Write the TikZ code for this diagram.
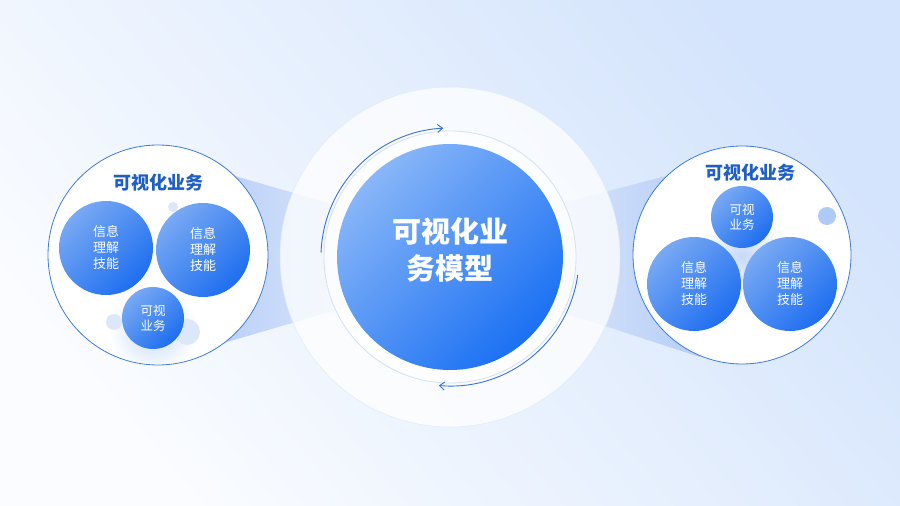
\documentclass[tikz,border=0pt]{standalone}
\usepackage{fontspec}
\newfontfamily\cjk{Noto Sans CJK SC}
\usetikzlibrary{arrows.meta}
\definecolor{bgblue}{HTML}{D4E4FC}
\definecolor{bgwhite}{HTML}{FAFCFF}
\definecolor{beamblue}{HTML}{B5CDF7}
\definecolor{beamlight}{HTML}{DCE8FB}
\definecolor{ringline}{HTML}{D3E1F6}
\definecolor{circline}{HTML}{3D7CDA}
\definecolor{mainlight}{HTML}{88B6F8}
\definecolor{maindark}{HTML}{1B70F3}
\definecolor{innerlight}{HTML}{78A9F3}
\definecolor{innerdark}{HTML}{1E6EF0}
\definecolor{titleblue}{HTML}{1F5FC5}
\definecolor{arrowblue}{HTML}{3674D6}
\definecolor{dotblue}{HTML}{DCE7F9}
\definecolor{glowblue}{HTML}{C6D9F8}

\begin{document}
\begin{tikzpicture}[x=1pt,y=1pt,
  bigcirc/.style={circle,draw=circline,line width=0.8pt,fill=white,minimum size=#1,inner sep=0pt},
  bluecirc/.style={circle,top color=innerlight,bottom color=innerdark,shading angle=45,
    minimum size=#1,inner sep=0pt,text=white,align=center,
    font=\cjk\fontsize{13}{16}\selectfont},
  smallcirc/.style={bluecirc=#1,font=\cjk\fontsize{12.5}{15}\selectfont},
  titletext/.style={text=titleblue,font=\cjk\bfseries\fontsize{18}{20}\selectfont},
  arcline/.style={draw=arrowblue,line width=0.9pt,-{Straight Barb[length=5pt,width=8pt]}}]

  \useasboundingbox (0,0) rectangle (900,506);
  \shade[top color=bgblue,bottom color=bgwhite,shading angle=-50] (0,0) rectangle (900,506);

  % beams between the circles
  \shade[left color=beamblue,right color=beamlight] (200,340) -- (360,294) -- (360,203) -- (200,156) -- cycle;
  \shade[left color=beamlight,right color=beamblue] (540,297) -- (700,339) -- (700,149) -- (540,201) -- cycle;

  % centre
  \coordinate (o) at (450,249);
  \fill[white,opacity=0.75] (o) circle[radius=170];
  \draw[ringline!70,line width=0.5pt] (o) circle[radius=170];
  \fill[white,opacity=0.7] (o) circle[radius=126];
  \draw[ringline,line width=0.8pt] (o) circle[radius=126];
  \node[name=m,circle,top color=mainlight,bottom color=maindark,shading angle=45,
    minimum size=226pt,inner sep=0pt] at (o) {};
  \node[name=mt,text=white,align=center,font=\cjk\bfseries\fontsize{29}{37}\selectfont] at (450,256) {可视化业\\务模型};
  \draw[arcline] (o) ++(178:129) arc[start angle=178,end angle=93,radius=129];
  \draw[arcline] (o) ++(-8:129) arc[start angle=-8,end angle=-95,radius=129];

  % left group
  \node[name=l,bigcirc=220pt] at (158,251) {};
  \begin{scope}
    \clip (l.center) circle[radius=109];
    \shade[inner color=glowblue,outer color=white] (153,176) circle[radius=44];
  \end{scope}
  \fill[dotblue] (173,299) circle[radius=5];
  \fill[dotblue] (114,184) circle[radius=8];
  \fill[dotblue] (187,174) circle[radius=13];
  \node[name=lt,titletext] at (158,323) {可视化业务};
  \node[name=la,bluecirc=94pt] at (106,258) {信息\\理解\\技能};
  \node[name=lb,bluecirc=94pt] at (203,256) {信息\\理解\\技能};
  \node[name=lc,smallcirc=62pt] at (153,188) {可视\\业务};

  % right group
  \node[name=r,bigcirc=218pt] at (742,251) {};
  \begin{scope}
    \clip (r.center) circle[radius=108];
    \shade[inner color=glowblue,outer color=white] (742,250) circle[radius=42];
  \end{scope}
  \fill[innerlight!60] (827,290) circle[radius=9];
  \node[name=rt,titletext] at (750,333) {可视化业务};
  \node[name=ra,smallcirc=62pt] at (742,289) {可视\\业务};
  \node[name=rb,bluecirc=94pt] at (694,222) {信息\\理解\\技能};
  \node[name=rc,bluecirc=94pt] at (790,222) {信息\\理解\\技能};

\end{tikzpicture}
\end{document}
